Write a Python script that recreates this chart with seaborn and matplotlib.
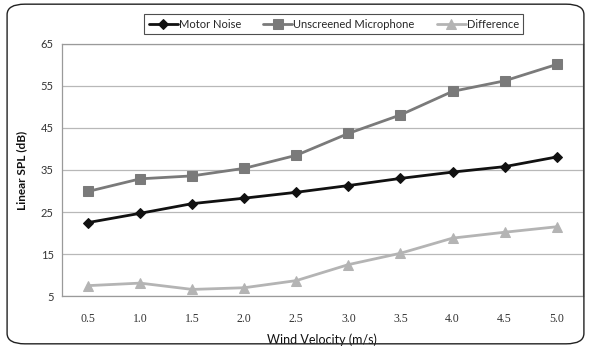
import matplotlib
matplotlib.use("Agg")
import matplotlib.pyplot as plt
import seaborn as sns
import pandas as pd
from matplotlib.patches import FancyBboxPatch

wind = ["0.5", "1.0", "1.5", "2.0", "2.5", "3.0", "3.5", "4.0", "4.5", "5.0"]
motor_noise = [22.5, 24.7, 27.0, 28.3, 29.7, 31.3, 33.0, 34.5, 35.8, 38.1]
unscreened = [29.9, 32.9, 33.6, 35.4, 38.5, 43.7, 48.1, 53.7, 56.2, 60.1]
difference = [7.5, 8.1, 6.6, 7.0, 8.7, 12.5, 15.2, 18.8, 20.2, 21.5]
yticks = [5, 15, 25, 35, 45, 55, 65]

sns.set_style("white")
plt.rcParams['font.family'] = ['Lato', 'DejaVu Sans']

fig = plt.figure(figsize=(5.91, 3.48), dpi=100)
ax = fig.add_axes([0.105, 0.149, 0.881, 0.725])

pos = list(range(len(wind)))
series = [
    ("Motor Noise", motor_noise, "#111111", "D", 5, 2.0),
    ("Unscreened Microphone", unscreened, "#7a7a7a", "s", 7, 2.0),
    ("Difference", difference, "#b4b4b4", "^", 7, 2.0),
]
for name, vals, col, mk, ms, lw in series:
    df = pd.DataFrame({"x": pos, "y": vals})
    sns.lineplot(data=df, x="x", y="y", ax=ax, color=col, marker=mk,
                 markersize=ms, linewidth=lw, markeredgecolor=col,
                 label=name, legend=False)

ax.set_xlim(-0.5, len(wind) - 0.5)
ax.set_ylim(5, 65)
ax.set_yticks(yticks)
ax.set_yticklabels([str(v) for v in yticks], fontsize=8, color="#333333")
ax.set_xticks(pos)
ax.set_xticklabels(wind, fontsize=8.5, color="#333333", family="Liberation Serif")
ax.tick_params(axis="both", length=0, pad=6)
ax.tick_params(axis="x", pad=12)
ax.yaxis.grid(True, color="#b8b8b8", linewidth=0.9)
ax.set_axisbelow(True)
for s in ax.spines.values():
    s.set_color("#9a9a9a")
    s.set_linewidth(0.9)
ax.set_xlabel("Wind Velocity (m/s)", fontsize=9, color="#111111", labelpad=6)
ax.set_ylabel("Linear SPL (dB)", fontsize=8.5, fontweight="bold", color="#111111", labelpad=10)

handles, labels = ax.get_legend_handles_labels()
leg = fig.legend(handles, labels, loc="center", bbox_to_anchor=(0.565, 0.93),
                 ncol=3, fontsize=8, frameon=True, fancybox=False,
                 handlelength=2.6, columnspacing=2.0, handletextpad=0.1,
                 borderpad=0.4, edgecolor="#222222")
leg.get_frame().set_linewidth(0.8)

border = FancyBboxPatch((0.012, 0.012), 0.976, 0.976, transform=fig.transFigure,
                        boxstyle="round,pad=0,rounding_size=0.03",
                        fill=False, edgecolor="#222222", linewidth=1.0)
fig.patches.append(border)

fig.savefig("out.png", dpi=100)
